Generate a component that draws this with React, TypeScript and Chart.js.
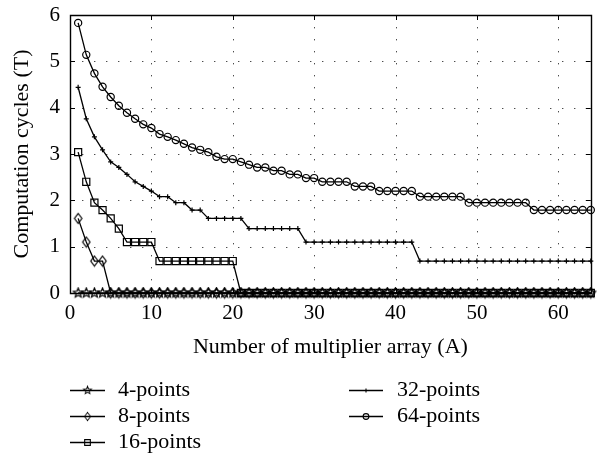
import React, { useEffect, useRef } from 'react';
import { Chart, registerables } from 'chart.js';

Chart.register(...registerables);

// ---- data ----
const multipliers = [
  1, 2, 3, 4, 5, 6, 7, 8, 9, 10, 11, 12, 13, 14, 15, 16,
  17, 18, 19, 20, 21, 22, 23, 24, 25, 26, 27, 28, 29, 30, 31, 32,
  33, 34, 35, 36, 37, 38, 39, 40, 41, 42, 43, 44, 45, 46, 47, 48,
  49, 50, 51, 52, 53, 54, 55, 56, 57, 58, 59, 60, 61, 62, 63, 64,
];

const seriesNames = ['4-points', '8-points', '16-points', '32-points', '64-points'];

const points4 = [
  0, 0, 0, 0, 0, 0, 0, 0, 0, 0, 0, 0, 0, 0, 0, 0,
  0, 0, 0, 0, 0, 0, 0, 0, 0, 0, 0, 0, 0, 0, 0, 0,
  0, 0, 0, 0, 0, 0, 0, 0, 0, 0, 0, 0, 0, 0, 0, 0,
  0, 0, 0, 0, 0, 0, 0, 0, 0, 0, 0, 0, 0, 0, 0, 0,
];

const points8 = [
  1.61, 1.1, 0.69, 0.69, 0, 0, 0, 0, 0, 0, 0, 0, 0, 0, 0, 0,
  0, 0, 0, 0, 0, 0, 0, 0, 0, 0, 0, 0, 0, 0, 0, 0,
  0, 0, 0, 0, 0, 0, 0, 0, 0, 0, 0, 0, 0, 0, 0, 0,
  0, 0, 0, 0, 0, 0, 0, 0, 0, 0, 0, 0, 0, 0, 0, 0,
];

const points16 = [
  3.04, 2.4, 1.95, 1.79, 1.61, 1.39, 1.1, 1.1, 1.1, 1.1, 0.69, 0.69, 0.69, 0.69, 0.69, 0.69,
  0.69, 0.69, 0.69, 0.69, 0, 0, 0, 0, 0, 0, 0, 0, 0, 0, 0, 0,
  0, 0, 0, 0, 0, 0, 0, 0, 0, 0, 0, 0, 0, 0, 0, 0,
  0, 0, 0, 0, 0, 0, 0, 0, 0, 0, 0, 0, 0, 0, 0, 0,
];

const points32 = [
  4.44, 3.76, 3.37, 3.09, 2.83, 2.71, 2.56, 2.4, 2.3, 2.2, 2.08, 2.08, 1.95, 1.95, 1.79, 1.79,
  1.61, 1.61, 1.61, 1.61, 1.61, 1.39, 1.39, 1.39, 1.39, 1.39, 1.39, 1.39, 1.1, 1.1, 1.1, 1.1,
  1.1, 1.1, 1.1, 1.1, 1.1, 1.1, 1.1, 1.1, 1.1, 1.1, 0.69, 0.69, 0.69, 0.69, 0.69, 0.69,
  0.69, 0.69, 0.69, 0.69, 0.69, 0.69, 0.69, 0.69, 0.69, 0.69, 0.69, 0.69, 0.69, 0.69, 0.69, 0.69,
];

const points64 = [
  5.83, 5.14, 4.74, 4.45, 4.23, 4.04, 3.89, 3.76, 3.64, 3.56, 3.43, 3.37, 3.3, 3.22, 3.14, 3.09,
  3.04, 2.94, 2.89, 2.89, 2.83, 2.77, 2.71, 2.71, 2.64, 2.64, 2.56, 2.56, 2.48, 2.48, 2.4, 2.4,
  2.4, 2.4, 2.3, 2.3, 2.3, 2.2, 2.2, 2.2, 2.2, 2.2, 2.08, 2.08, 2.08, 2.08, 2.08, 2.08,
  1.95, 1.95, 1.95, 1.95, 1.95, 1.95, 1.95, 1.95, 1.79, 1.79, 1.79, 1.79, 1.79, 1.79, 1.79, 1.79,
];

const xTickValues = [0, 10, 20, 30, 40, 50, 60];
const yTickValues = [0, 1, 2, 3, 4, 5, 6];

const xTitle = 'Number of multiplier array (A)';
const yTitle = 'Computation cycles (T)';

// ---- styling ----
const FONT = '"Liberation Serif", "Times New Roman", serif';
const W = 597;
const H = 455;

function makeStar(): HTMLCanvasElement {
  const c = document.createElement('canvas');
  c.width = 13;
  c.height = 13;
  const ctx = c.getContext('2d') as CanvasRenderingContext2D;
  ctx.beginPath();
  for (let i = 0; i < 10; i++) {
    const r = i % 2 === 0 ? 5 : 2.2;
    const a = -Math.PI / 2 + (i * Math.PI) / 5;
    const px = 6.5 + r * Math.cos(a);
    const py = 6.5 + r * Math.sin(a);
    if (i === 0) ctx.moveTo(px, py);
    else ctx.lineTo(px, py);
  }
  ctx.closePath();
  ctx.strokeStyle = '#000';
  ctx.lineWidth = 1.2;
  ctx.stroke();
  return c;
}

function makeDiamond(): HTMLCanvasElement {
  const c = document.createElement('canvas');
  c.width = 11;
  c.height = 13;
  const ctx = c.getContext('2d') as CanvasRenderingContext2D;
  ctx.beginPath();
  ctx.moveTo(5.5, 1.5);
  ctx.lineTo(9.2, 6.5);
  ctx.lineTo(5.5, 11.5);
  ctx.lineTo(1.8, 6.5);
  ctx.closePath();
  ctx.strokeStyle = '#000';
  ctx.lineWidth = 1.2;
  ctx.stroke();
  return c;
}

type Marker = { style: any; radius: number };

function drawMarker(ctx: CanvasRenderingContext2D, m: Marker, x: number, y: number) {
  ctx.save();
  ctx.strokeStyle = '#000';
  ctx.lineWidth = 1.1;
  ctx.beginPath();
  const r = m.radius * 0.8;
  if (m.style instanceof HTMLCanvasElement) {
    const w = m.style.width * 0.8;
    const h = m.style.height * 0.8;
    ctx.drawImage(m.style, x - w / 2, y - h / 2, w, h);
  } else if (m.style === 'circle') {
    ctx.arc(x, y, r, 0, Math.PI * 2);
    ctx.stroke();
  } else if (m.style === 'rect') {
    const s = r * Math.SQRT1_2;
    ctx.rect(x - s, y - s, 2 * s, 2 * s);
    ctx.stroke();
  } else if (m.style === 'cross') {
    ctx.moveTo(x - r, y);
    ctx.lineTo(x + r, y);
    ctx.moveTo(x, y - r);
    ctx.lineTo(x, y + r);
    ctx.stroke();
  }
  ctx.restore();
}

export default function App() {
  const ref = useRef<HTMLCanvasElement | null>(null);

  useEffect(() => {
    const canvas = ref.current;
    if (!canvas) return;
    const markers: Marker[] = [
      { style: makeStar(), radius: 5 },
      { style: makeDiamond(), radius: 5 },
      { style: 'rect', radius: 5 },
      { style: 'cross', radius: 2.5 },
      { style: 'circle', radius: 3.6 },
    ];
    const allSeries = [points4, points8, points16, points32, points64];

    const datasets = allSeries.map((s, i) => ({
      label: seriesNames[i],
      data: multipliers.map((a, j) => ({ x: a, y: s[j] })),
      borderColor: '#000',
      backgroundColor: 'rgba(0,0,0,0)',
      borderWidth: 1.3,
      pointStyle: markers[i].style,
      pointRadius: markers[i].radius,
      pointBorderColor: '#000',
      pointBackgroundColor: 'rgba(0,0,0,0)',
      pointBorderWidth: 1.2,
      tension: 0,
      clip: false as any,
    }));

    const framePlugin = {
      id: 'frame',
      beforeDatasetsDraw(chart: any) {
        const { ctx, chartArea } = chart;
        const xs = chart.scales.x;
        const ys = chart.scales.y;
        const L = chartArea.left;
        const R = chartArea.right;
        const T = chartArea.top;
        const B = chartArea.bottom;
        ctx.save();
        // dotted grid
        ctx.strokeStyle = 'rgba(0,0,0,0.7)';
        ctx.lineWidth = 1;
        ctx.setLineDash([1.4, 10.6]);
        xTickValues.forEach((v) => {
          if (v === 0) return;
          const px = Math.round(xs.getPixelForValue(v)) + 0.5;
          ctx.beginPath();
          ctx.moveTo(px, T);
          ctx.lineTo(px, B);
          ctx.stroke();
        });
        yTickValues.forEach((v) => {
          if (v === 0 || v === 6) return;
          const py = Math.round(ys.getPixelForValue(v)) + 0.5;
          ctx.beginPath();
          ctx.moveTo(L + 12, py);
          ctx.lineTo(R, py);
          ctx.stroke();
        });
        ctx.setLineDash([]);
        // ticks inward
        ctx.strokeStyle = '#000';
        ctx.lineWidth = 1;
        xTickValues.forEach((v) => {
          const px = Math.round(xs.getPixelForValue(v)) + 0.5;
          ctx.beginPath();
          ctx.moveTo(px, B);
          ctx.lineTo(px, B - 5);
          ctx.moveTo(px, T);
          ctx.lineTo(px, T + 5);
          ctx.stroke();
        });
        yTickValues.forEach((v) => {
          const py = Math.round(ys.getPixelForValue(v)) + 0.5;
          ctx.beginPath();
          ctx.moveTo(L, py);
          ctx.lineTo(L + 5, py);
          ctx.moveTo(R, py);
          ctx.lineTo(R - 5, py);
          ctx.stroke();
        });
        // frame
        ctx.lineWidth = 1.4;
        ctx.strokeStyle = '#000';
        ctx.beginPath();
        ctx.rect(Math.round(L) + 0.5, Math.round(T) + 0.5, Math.round(R - L), Math.round(B - T));
        ctx.stroke();
        ctx.restore();
      },
      afterDraw(chart: any) {
        const { ctx } = chart;
        // legend laid out in two columns
        const cols = [
          { lineStart: 70, lineEnd: 105, textX: 118 },
          { lineStart: 349, lineEnd: 383, textX: 397 },
        ];
        const rowY = [390, 416, 442];
        const placement = [
          [0, 0],
          [0, 1],
          [0, 2],
          [1, 0],
          [1, 1],
        ];
        ctx.save();
        ctx.font = `22px ${FONT}`;
        ctx.fillStyle = '#000';
        ctx.textAlign = 'left';
        ctx.textBaseline = 'middle';
        seriesNames.forEach((name, i) => {
          const [c, r] = placement[i];
          const col = cols[c];
          const y = rowY[r];
          ctx.strokeStyle = '#000';
          ctx.lineWidth = 1.3;
          ctx.beginPath();
          ctx.moveTo(col.lineStart, y + 0.5);
          ctx.lineTo(col.lineEnd, y + 0.5);
          ctx.stroke();
          drawMarker(ctx, markers[i], (col.lineStart + col.lineEnd) / 2, y + 0.5);
          ctx.fillText(name, col.textX, y);
        });
        ctx.restore();
      },
    };

    const chart = new Chart(canvas, {
      type: 'line',
      data: { datasets },
      options: {
        animation: false,
        responsive: false,
        events: [],
        layout: { padding: { top: 15, left: 0, right: 0, bottom: 92 } },
        plugins: { legend: { display: false }, tooltip: { enabled: false } },
        scales: {
          x: {
            type: 'linear',
            min: 0,
            max: 64,
            afterFit: (s: any) => {
              s.height = 70;
              s.paddingLeft = 0;
              s.paddingRight = 0;
            },
            afterBuildTicks: (s: any) => {
              s.ticks = xTickValues.map((v) => ({ value: v }));
            },
            grid: { display: false, drawTicks: false },
            border: { display: false },
            ticks: {
              padding: 8,
              color: '#000',
              font: { family: FONT, size: 21 },
              maxRotation: 0,
              autoSkip: false,
            },
            title: {
              display: true,
              text: xTitle,
              color: '#000',
              font: { family: FONT, size: 22 },
              padding: { top: 0, bottom: 3 },
            },
          },
          y: {
            type: 'linear',
            min: 0,
            max: 6,
            afterFit: (s: any) => {
              s.width = 70;
              s.paddingTop = 0;
              s.paddingBottom = 0;
            },
            afterBuildTicks: (s: any) => {
              s.ticks = yTickValues.map((v) => ({ value: v }));
            },
            grid: { display: false, drawTicks: false },
            border: { display: false },
            ticks: {
              padding: 10,
              color: '#000',
              font: { family: FONT, size: 21 },
              autoSkip: false,
            },
            title: {
              display: true,
              text: yTitle,
              color: '#000',
              font: { family: FONT, size: 22 },
              padding: { top: 9, bottom: 0 },
            },
          },
        },
      },
      plugins: [framePlugin],
    });

    return () => {
      chart.destroy();
    };
  }, []);

  return (
    <div style={{ position: 'absolute', left: 0, top: 0, width: W, height: H, background: '#fff' }}>
      <canvas ref={ref} width={W} height={H} style={{ display: 'block' }} />
    </div>
  );
}
